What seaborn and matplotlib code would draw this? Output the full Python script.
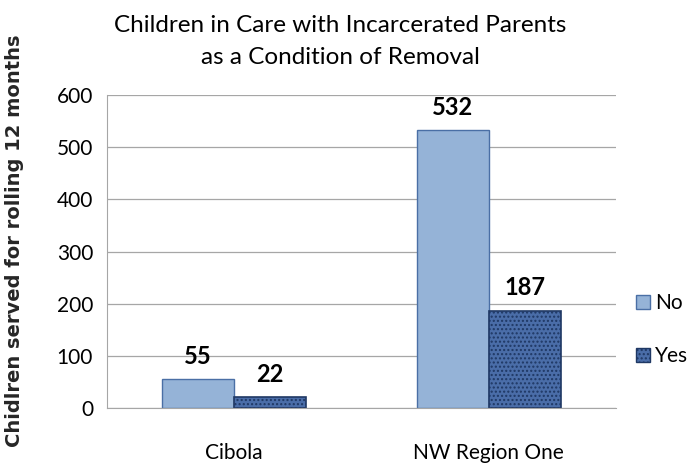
import seaborn as sns
import matplotlib.pyplot as plt
import pandas as pd
from matplotlib.patches import Patch

sns.set_style("white")
plt.rcParams['font.family'] = ['Lato', 'DejaVu Sans']
plt.rcParams['text.color'] = 'black'
plt.rcParams['xtick.color'] = 'black'
plt.rcParams['ytick.color'] = 'black'

# data
regions = ['Cibola', 'NW Region One']
no_counts = [55, 532]
yes_counts = [22, 187]
series = ['No', 'Yes']

df = pd.DataFrame({
    'Region': regions * 2,
    'Removal': ['No'] * len(regions) + ['Yes'] * len(regions),
    'Count': no_counts + yes_counts,
})

no_face, no_edge = '#95B3D7', '#4A6FA5'
yes_face, yes_edge = '#4A6DA8', '#1F3864'

fig = plt.figure(figsize=(6.9, 4.68), dpi=100)
ax = fig.add_axes([0.155, 0.128, 0.738, 0.669])

sns.barplot(data=df, x='Region', y='Count', hue='Removal', hue_order=series,
            palette=[no_face, yes_face], saturation=1, width=0.565, gap=0,
            legend=False, ax=ax)

for bar in ax.containers[0]:
    bar.set_edgecolor(no_edge)
    bar.set_linewidth(1.0)
for bar in ax.containers[1]:
    bar.set_edgecolor(yes_edge)
    bar.set_linewidth(1.2)
    bar.set_hatch('....')

for cont in ax.containers:
    ax.bar_label(cont, padding=8, fontsize=17, fontweight='bold')

ax.set_ylim(0, 600)
ax.set_xlim(-0.5, 1.5)
ax.set_yticks(range(0, 601, 100))
ax.yaxis.grid(True, color='#A6A6A6', linewidth=0.9)
ax.set_axisbelow(True)
ax.set_xticks([-0.5, 0.5, 1.5], minor=True)
ax.tick_params(axis='x', which='major', length=0, labelsize=15, pad=25)
ax.tick_params(axis='x', which='minor', length=6, color='#A6A6A6', direction='out')
ax.tick_params(axis='y', length=5, color='#A6A6A6', direction='out', labelsize=15, pad=5)
sns.despine(ax=ax, top=True, right=True)
for s in ['left', 'bottom']:
    ax.spines[s].set_color('#A6A6A6')

ax.set_xlabel('')
ax.set_ylabel('Chidlren served for rolling 12 months', family='DejaVu Sans',
              fontweight='bold', fontsize=14)
ax.yaxis.set_label_coords(-0.162, 0.535)

fig.text(0.493, 0.912, 'Children in Care with Incarcerated Parents\nas a Condition of Removal',
         ha='center', va='center', fontsize=17.5, linespacing=1.65)

handles = [Patch(facecolor=no_face, edgecolor=no_edge, label='No'),
           Patch(facecolor=yes_face, edgecolor=yes_edge, hatch='....', label='Yes')]
ax.legend(handles=handles, loc='center left', bbox_to_anchor=(1.038, 0.25),
          frameon=False, fontsize=15, handlelength=0.7, handleheight=0.7,
          handletextpad=0.25, labelspacing=1.6, borderaxespad=0, borderpad=0)

fig.savefig('out.png', dpi=100)
plt.close()
